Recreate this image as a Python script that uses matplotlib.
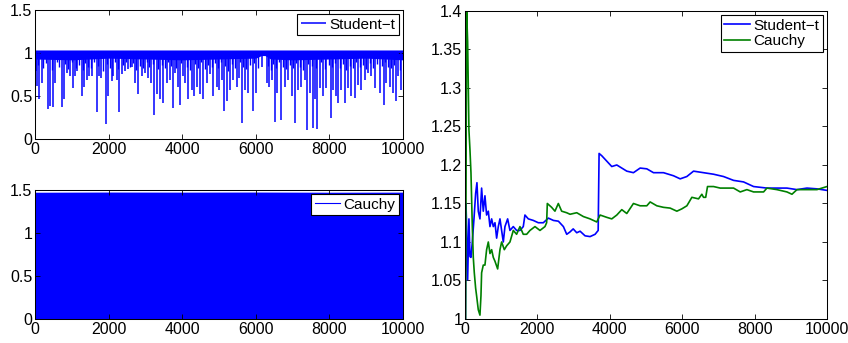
"""Student-t vs Cauchy samples and their running means (MATLAB-style figure)."""
import matplotlib

matplotlib.use("Agg")

import matplotlib.pyplot as plt  # noqa: E402

# ---------------------------------------------------------------------------
# Data
# ---------------------------------------------------------------------------
X_TICKS = [0, 2000, 4000, 6000, 8000, 10000]
X_TICK_LABELS = ["0", "2000", "4000", "6000", "8000", "10000"]
LEFT_Y_TICKS = [0, 0.5, 1, 1.5]
LEFT_Y_TICK_LABELS = ["0", "0.5", "1", "1.5"]
RIGHT_Y_TICKS = [1, 1.05, 1.1, 1.15, 1.2, 1.25, 1.3, 1.35, 1.4]
RIGHT_Y_TICK_LABELS = ["1", "1.05", "1.1", "1.15", "1.2", "1.25", "1.3", "1.35", "1.4"]

# Student-t samples: dense band near the top plus downward spikes
st_band_x = [0, 1000, 2000, 3000, 4000, 5000, 6000, 6150, 6250, 6400, 7000, 8000, 9000, 10000]
st_band_top = [1.035, 1.035, 1.035, 1.035, 1.035, 1.035, 1.035, 1.035, 1.035, 1.035,
               1.035, 1.035, 1.035, 1.035]
st_band_low = [0.93, 0.92, 0.94, 0.93, 0.92, 0.93, 0.94, 0.97, 0.97, 0.93, 0.92, 0.93,
               0.94, 0.92]

st_dip_x = [27, 63, 118, 181, 344, 407, 498, 543, 724, 787, 860, 950, 1023, 1086, 1149,
            1267, 1330, 1403, 1475, 1539, 1674, 1738, 1792, 1928, 1991, 2082, 2127, 2217,
            2290, 2353, 2444, 2534, 2625, 2715, 2796, 2896, 2987, 3077, 3140, 3240, 3303,
            3394, 3484, 3575, 3665, 3738, 3801, 3873, 3937, 4009, 4073, 4163, 4254, 4317,
            4407, 4480, 4570, 4661, 4751, 4842, 4932, 5005, 5068, 5131, 5204, 5294, 5385,
            5493, 5548, 5620, 5701, 5792, 5928, 6000, 6154, 6290, 6362, 6426, 6507, 6579,
            6697, 6788, 6878, 6969, 7059, 7150, 7240, 7331, 7394, 7466, 7557, 7602, 7674,
            7738, 7828, 7919, 8036, 8100, 8190, 8236, 8326, 8417, 8507, 8598, 8688, 8779,
            8869, 8960, 9050, 9141, 9231, 9367, 9475, 9548, 9638, 9729, 9801, 9864, 9955]
st_dip_y = [0.79, 0.62, 0.46, 0.65, 0.35, 0.38, 0.37, 0.65, 0.37, 0.47, 0.77, 0.73, 0.59,
            0.73, 0.79, 0.50, 0.61, 0.69, 0.73, 0.73, 0.31, 0.73, 0.71, 0.17, 0.50, 0.67,
            0.73, 0.69, 0.31, 0.75, 0.79, 0.81, 0.84, 0.65, 0.52, 0.73, 0.77, 0.71, 0.65,
            0.28, 0.52, 0.46, 0.42, 0.65, 0.69, 0.36, 0.77, 0.61, 0.39, 0.73, 0.65, 0.47,
            0.57, 0.50, 0.61, 0.52, 0.46, 0.65, 0.75, 0.50, 0.61, 0.57, 0.69, 0.33, 0.44,
            0.57, 0.69, 0.61, 0.71, 0.19, 0.57, 0.53, 0.32, 0.53, 0.84, 0.65, 0.60, 0.69,
            0.20, 0.53, 0.22, 0.61, 0.69, 0.50, 0.19, 0.57, 0.61, 0.69, 0.10, 0.53, 0.13,
            0.46, 0.12, 0.59, 0.50, 0.59, 0.24, 0.57, 0.50, 0.42, 0.57, 0.42, 0.59, 0.50,
            0.48, 0.63, 0.57, 0.69, 0.77, 0.73, 0.59, 0.53, 0.39, 0.65, 0.61, 0.53, 0.44,
            0.73, 0.57]

st_mid_x = [90, 230, 300, 450, 600, 650, 820, 900, 1000, 1120, 1200, 1300, 1360, 1440,
            1510, 1600, 1700, 1850, 1960, 2050, 2170, 2250, 2400, 2480, 2580, 2670, 2750,
            2850, 2940, 3030, 3100, 3200, 3350, 3440, 3530, 3620, 3700, 3840, 3970, 4120,
            4200, 4360, 4440, 4520, 4620, 4700, 4800, 4880, 4970, 5040, 5170, 5250, 5340,
            5440, 5580, 5660, 5740, 5850, 5960, 6060, 6330, 6400, 6460, 6540, 6620, 6740,
            6830, 6920, 7010, 7100, 7200, 7290, 7430, 7520, 7640, 7780, 7880, 7980, 8060,
            8150, 8280, 8370, 8460, 8550, 8640, 8730, 8820, 8910, 9000, 9100, 9180, 9290,
            9420, 9510, 9590, 9680, 9760, 9920]
st_mid_y = [0.86, 0.82, 0.88, 0.80, 0.90, 0.84, 0.87, 0.81, 0.89, 0.83, 0.86, 0.80, 0.88,
            0.84, 0.82, 0.90, 0.85, 0.79, 0.87, 0.83, 0.89, 0.81, 0.86, 0.90, 0.84, 0.88,
            0.80, 0.85, 0.82, 0.89, 0.84, 0.87, 0.81, 0.86, 0.83, 0.90, 0.85, 0.82, 0.88,
            0.84, 0.80, 0.87, 0.83, 0.89, 0.81, 0.86, 0.84, 0.88, 0.82, 0.90, 0.85, 0.79,
            0.87, 0.83, 0.89, 0.84, 0.81, 0.86, 0.88, 0.82, 0.85, 0.80, 0.87, 0.83, 0.89,
            0.84, 0.81, 0.86, 0.82, 0.88, 0.84, 0.80, 0.87, 0.85, 0.83, 0.89, 0.81, 0.86,
            0.84, 0.88, 0.82, 0.87, 0.80, 0.85, 0.83, 0.89, 0.84, 0.86, 0.81, 0.88, 0.83,
            0.87, 0.85, 0.90, 0.84, 0.82, 0.86, 0.80]

# Cauchy samples: the trace fills the whole band between these envelopes
cauchy_x = [0, 2000, 4000, 6000, 8000, 10000]
cauchy_low = [0.0, 0.0, 0.0, 0.0, 0.0, 0.0]
cauchy_high = [1.474, 1.476, 1.475, 1.476, 1.474, 1.475]

# Running means
mean_t_x = [0, 10, 28, 46, 74, 110, 138, 166, 203, 249, 295, 331, 368, 414, 460, 506,
            552, 598, 645, 691, 737, 783, 829, 875, 921, 967, 1059, 1105, 1179, 1243,
            1335, 1427, 1519, 1611, 1657, 1750, 1888, 2026, 2164, 2304, 2443, 2581, 2719,
            2811, 2900, 2990, 3088, 3180, 3318, 3456, 3595, 3680, 3705, 3779, 3917, 4055,
            4194, 4332, 4470, 4654, 4839, 5023, 5208, 5484, 5761, 5945, 6129, 6314, 6590,
            6867, 7143, 7420, 7696, 7973, 8341, 8710, 8894, 9171, 9447, 9724, 10000]
mean_t_y = [1.200, 1.000, 1.150, 1.120, 1.051, 1.130, 1.081, 1.080, 1.100, 1.130, 1.163,
            1.177, 1.140, 1.130, 1.170, 1.140, 1.160, 1.135, 1.140, 1.120, 1.130, 1.120,
            1.125, 1.105, 1.120, 1.130, 1.100, 1.120, 1.130, 1.115, 1.120, 1.115, 1.115,
            1.120, 1.135, 1.130, 1.128, 1.125, 1.125, 1.131, 1.128, 1.127, 1.120, 1.110,
            1.113, 1.117, 1.112, 1.114, 1.108, 1.107, 1.110, 1.115, 1.215, 1.212, 1.205,
            1.198, 1.200, 1.196, 1.192, 1.190, 1.196, 1.195, 1.190, 1.190, 1.186, 1.182,
            1.185, 1.192, 1.190, 1.188, 1.185, 1.180, 1.178, 1.172, 1.170, 1.170, 1.170,
            1.168, 1.170, 1.169, 1.167]

mean_c_x = [0, 18, 46, 74, 110, 138, 166, 203, 230, 258, 295, 322, 368, 414, 442, 460,
            506, 552, 598, 645, 691, 737, 783, 829, 903, 967, 1013, 1087, 1151, 1243, 1335,
            1427, 1519, 1611, 1704, 1796, 1934, 2072, 2210, 2256, 2275, 2394, 2486, 2579,
            2671, 2809, 2903, 3088, 3272, 3456, 3641, 3733, 3917, 4055, 4194, 4332, 4470,
            4654, 4839, 5023, 5116, 5300, 5484, 5669, 5853, 5990, 6130, 6268, 6452, 6544,
            6590, 6650, 6700, 6867, 7051, 7235, 7420, 7604, 7788, 7973, 8249, 8341, 8618,
            8894, 9033, 9171, 9447, 9724, 10000]
mean_c_y = [1.000, 1.000, 1.400, 1.360, 1.245, 1.220, 1.190, 1.120, 1.080, 1.060, 1.040,
            1.030, 1.012, 1.005, 1.030, 1.060, 1.070, 1.070, 1.090, 1.100, 1.085, 1.090,
            1.080, 1.075, 1.065, 1.090, 1.100, 1.090, 1.095, 1.100, 1.115, 1.110, 1.120,
            1.110, 1.110, 1.115, 1.120, 1.115, 1.120, 1.125, 1.150, 1.145, 1.140, 1.150,
            1.140, 1.138, 1.136, 1.138, 1.133, 1.130, 1.126, 1.135, 1.132, 1.130, 1.135,
            1.142, 1.137, 1.150, 1.147, 1.147, 1.152, 1.147, 1.145, 1.144, 1.140, 1.143,
            1.147, 1.158, 1.156, 1.162, 1.158, 1.158, 1.172, 1.172, 1.170, 1.170, 1.170,
            1.165, 1.168, 1.165, 1.165, 1.170, 1.168, 1.165, 1.162, 1.168, 1.168, 1.168,
            1.172]

# ---------------------------------------------------------------------------
# Style
# ---------------------------------------------------------------------------
BLUE = "#0000ff"
GREEN = "#008000"
FONT = ["Liberation Sans", "DejaVu Sans"]

plt.rcParams["font.family"] = FONT
plt.rcParams["font.size"] = 11.5
plt.rcParams["axes.linewidth"] = 0.75


def style_axes(ax, ylim, yticks, ylabels):
    ax.set_xlim(0, 10000)
    ax.set_ylim(*ylim)
    ax.set_xticks(X_TICKS)
    ax.set_xticklabels(X_TICK_LABELS)
    ax.set_yticks(yticks)
    ax.set_yticklabels(ylabels)
    ax.tick_params(direction="in", top=True, right=True, length=3.5, width=0.6,
                   pad=2, labelsize=11.5)


def add_legend(ax, handles=None, labels=None):
    kw = dict(loc="upper right", fontsize=11, frameon=True, fancybox=False,
              edgecolor="black", framealpha=1, borderpad=0.25, borderaxespad=0.25,
              handlelength=1.7, handletextpad=0.2, labelspacing=0.1)
    if handles is None:
        leg = ax.legend(**kw)
    else:
        leg = ax.legend(handles, labels, **kw)
    leg.get_frame().set_linewidth(0.8)
    return leg


def main():
    fig = plt.figure(figsize=(8.48, 3.43), dpi=100)

    # top-left: Student-t samples
    ax1 = fig.add_axes([0.0413, 0.5948, 0.4340, 0.3761])
    ax1.fill_between(st_band_x, st_band_low, st_band_top, color=BLUE, linewidth=0)
    ax1.vlines(st_mid_x, st_mid_y, 1.0, color=BLUE, linewidth=1.0)
    ax1.vlines(st_dip_x, st_dip_y, 1.0, color=BLUE, linewidth=1.1,
               label="Student\u2212t")
    style_axes(ax1, (0, 1.5), LEFT_Y_TICKS, LEFT_Y_TICK_LABELS)
    add_legend(ax1)

    # bottom-left: Cauchy samples
    ax2 = fig.add_axes([0.0413, 0.0700, 0.4340, 0.3761])
    ax2.fill_between(cauchy_x, cauchy_low, cauchy_high, color=BLUE, linewidth=0)
    (cauchy_handle,) = ax2.plot([], [], color=BLUE, linewidth=0.8)
    style_axes(ax2, (0, 1.5), LEFT_Y_TICKS, LEFT_Y_TICK_LABELS)
    add_legend(ax2, [cauchy_handle], ["Cauchy"])

    # right: running means
    ax3 = fig.add_axes([0.5483, 0.0700, 0.4269, 0.8980])
    ax3.plot(mean_t_x, mean_t_y, color=BLUE, linewidth=1.2, label="Student\u2212t")
    ax3.plot(mean_c_x, mean_c_y, color=GREEN, linewidth=1.2, label="Cauchy")
    style_axes(ax3, (1, 1.4), RIGHT_Y_TICKS, RIGHT_Y_TICK_LABELS)
    add_legend(ax3)

    fig.savefig("out.png", dpi=100)
    plt.close(fig)


if __name__ == "__main__":
    main()
